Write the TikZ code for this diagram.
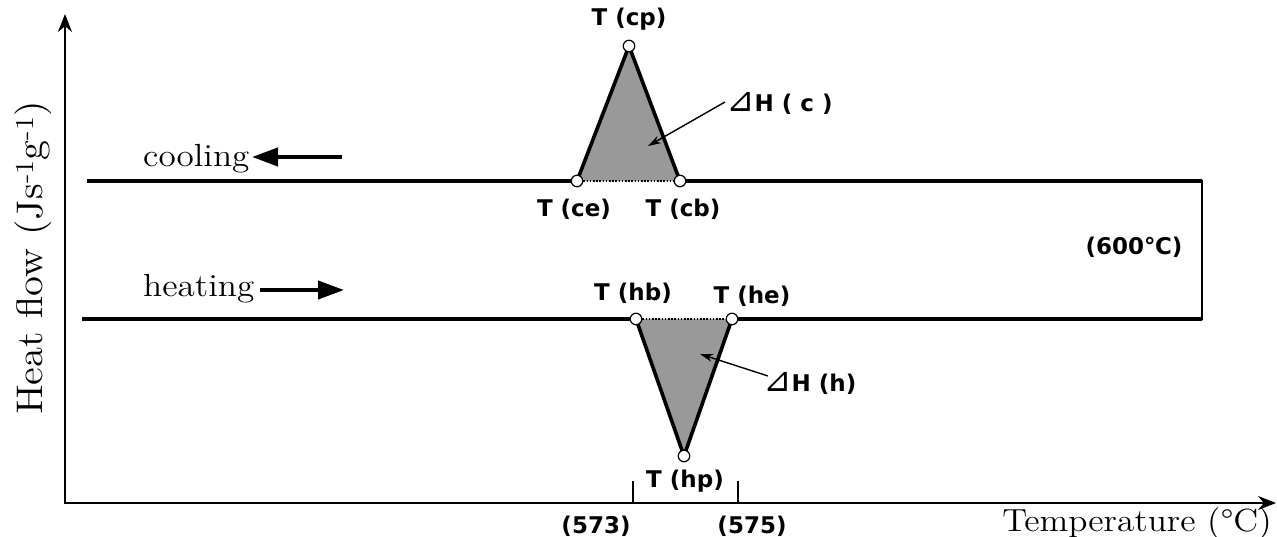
\documentclass[tikz,border=0pt]{standalone}
\usepackage{fontspec}
\usetikzlibrary{arrows.meta}
\newfontfamily\labfont{DejaVu Sans}
\newfontfamily\trifont{DejaVu Sans}
\newfontfamily\serfont[FakeStretch=1.1]{lmroman12-regular.otf}
\newcommand{\rtri}{{\trifont\mdseries\fontsize{34}{34}\selectfont ⊿}}
\begin{document}
\begin{tikzpicture}[x=1pt,y=-1pt,
  curve/.style={line width=3.6pt,line join=miter},
  axisline/.style={line width=1.6pt},
  pt/.style={circle,draw,fill=white,inner sep=0pt,minimum size=11.5pt,line width=1.2pt},
  tlab/.style={font=\labfont\bfseries\fontsize{23}{25}\selectfont,inner sep=0pt},
  serlab/.style={font=\serfont\fontsize{32}{34}\selectfont,inner sep=0pt},
  base/.style={line width=2.2pt,dash pattern=on 1.6pt off 1.6pt},
  area/.style={fill=black!40},
  pointer/.style={line width=1.4pt,-{Stealth[length=13pt,width=8pt]}},
  dirarrow/.style={line width=4pt,-{Triangle[length=26pt,width=18pt]}},
  tick/.style={line width=1.2pt},
]
\useasboundingbox (0,0) rectangle (1277,537);
% axes
\coordinate (O) at (65,503);
\coordinate (ytip) at (65,14);
\coordinate (xtip) at (1276,503);
\draw[axisline,{Stealth[length=18pt,width=14pt]}-{Stealth[length=18pt,width=14pt]}] (ytip) -- (O) -- (xtip);
% key points
\coordinate (cs) at (87,181);
\coordinate (ce) at (577,181);
\coordinate (cp) at (629,46);
\coordinate (cb) at (680,181);
\coordinate (cr) at (1202,181);
\coordinate (hr) at (1202,319);
\coordinate (he) at (732,319);
\coordinate (hp) at (684,456);
\coordinate (hb) at (636,319);
\coordinate (hs) at (82,319);
% areas
\fill[area] (ce) -- (cp) -- (cb) -- cycle;
\fill[area] (hb) -- (hp) -- (he) -- cycle;
% curve
\draw[curve] (cs) -- (ce) -- (cp) -- (cb) -- (cr);
\draw[line width=2.6pt] ([yshift=1.3pt]cr) -- ([yshift=-1.3pt]hr);
\draw[curve] (hr) -- (he) -- (hp) -- (hb) -- (hs);
\draw[base] (ce) -- (cb);
\draw[base] (hb) -- (he);
% circles
\foreach \p in {ce,cp,cb,hb,he,hp} \node[pt] (\p dot) at (\p) {};
% point labels
\node[tlab] (lcp) at (629,19) {T (cp)};
\node[tlab] (lce) at (574,209) {T (ce)};
\node[tlab] (lcb) at (683,209) {T (cb)};
\node[tlab] (lhb) at (633,293) {T (hb)};
\node[tlab] (lhe) at (752,296) {T (he)};
\node[tlab] (lhp) at (685,481) {T (hp)};
\node[tlab] (l600) at (1134,247) {(600℃)};
% enthalpy labels
\coordinate (cArea) at (648,146);
\coordinate (hArea) at (700,354);
\node[tlab,anchor=west] (ldc) at (726,103) {\rtri H ( c )};
\node[tlab,anchor=west] (ldh) at (763,383) {\rtri H (h)};
\draw[pointer] ([xshift=-1pt,yshift=1pt]ldc.west) -- (cArea);
\draw[pointer] ([xshift=5pt,yshift=7pt]ldh.west) -- (hArea);
% cooling / heating
\node[serlab,anchor=base west] (lcool) at (143,167) {cooling};
\coordinate (coolTail) at (342,157);
\coordinate (coolTip) at (252,157);
\draw[dirarrow] (coolTail) -- (coolTip);
\node[serlab,anchor=base west] (lheat) at (143,297) {heating};
\coordinate (heatTail) at (260,290);
\coordinate (heatTip) at (344,290);
\draw[dirarrow] (heatTail) -- (heatTip);
% ticks
\coordinate (t1) at (633,503);
\coordinate (t2) at (738,503);
\draw[tick] (t1) -- ++(0,-22);
\draw[tick] (t2) -- ++(0,-22);
\node[tlab] (l573) at (596,526) {(573)};
\node[tlab] (l575) at (752,526) {(575)};
% axis labels
\node[serlab,font=\serfont\fontsize{37}{39}\selectfont,rotate=90] (ylab) at (33,258) {Heat flow (Js\textsuperscript{-1}g\textsuperscript{-1})};
\node[serlab,anchor=east] (xlab) at (1272,524) {Temperature (°C)};
\end{tikzpicture}
\end{document}
